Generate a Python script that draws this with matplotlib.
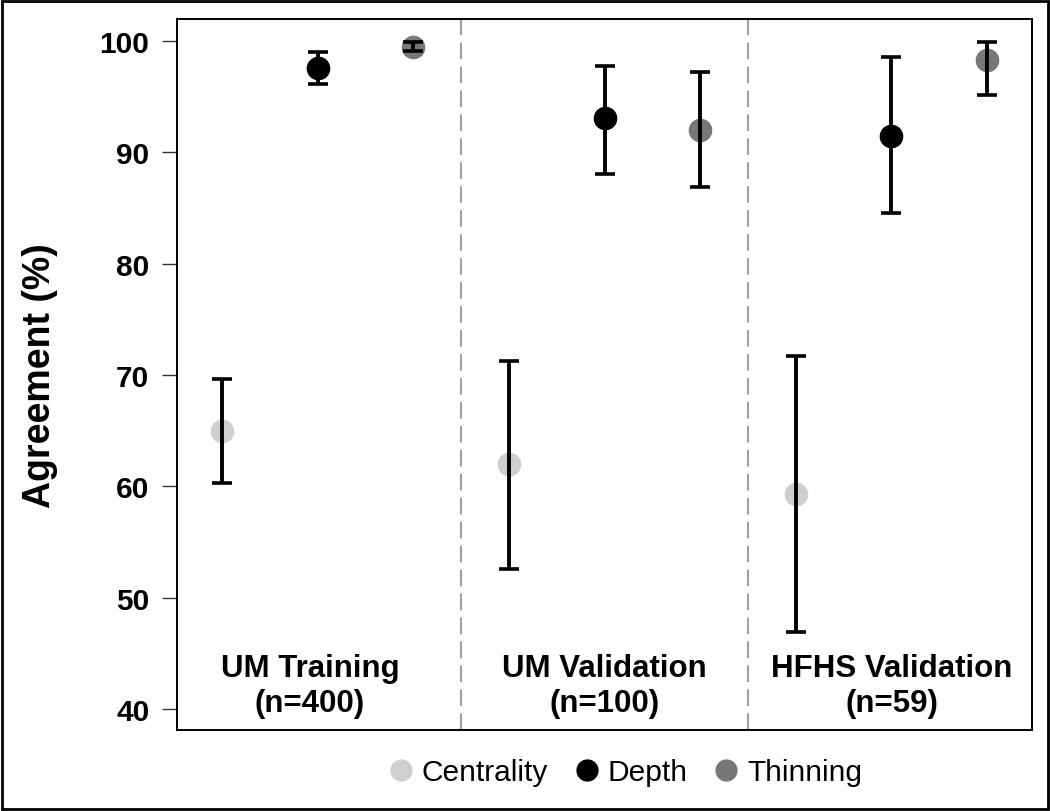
import matplotlib.pyplot as plt
from matplotlib.patches import Rectangle
from matplotlib.lines import Line2D
import numpy as np

# Dados
grupos = ['UM Training\n(n=400)', 'UM Validation\n(n=100)', 'HFHS Validation\n(n=59)']
medidas = ['Centrality', 'Depth', 'Thinning']
cores = ['#cfcfcf', '#000000', '#77777b']

estimativa = {
    'Centrality': [65.0, 62.0, 59.3],
    'Depth': [97.6, 93.1, 91.5],
    'Thinning': [99.5, 92.0, 98.3],
}
ic_inf = {
    'Centrality': [60.3, 52.6, 46.9],
    'Depth': [96.2, 88.1, 84.6],
    'Thinning': [99.1, 86.9, 95.2],
}
ic_sup = {
    'Centrality': [69.6, 71.3, 71.7],
    'Depth': [99.0, 97.8, 98.6],
    'Thinning': [99.9, 97.2, 99.9],
}

plt.rcParams['font.family'] = ['Liberation Sans', 'DejaVu Sans']

fig = plt.figure(figsize=(10.5, 8.12), dpi=100)
ax = fig.add_axes([0.1686, 0.0998, 0.8143, 0.8756])

for j, m in enumerate(medidas):
    x = np.arange(len(grupos)) * 3 + j
    y = np.array(estimativa[m])
    erro = [y - np.array(ic_inf[m]), np.array(ic_sup[m]) - y]
    ax.plot(x, y, 'o', color=cores[j], markersize=16, zorder=2)
    ax.errorbar(x, y, yerr=erro, fmt='none', ecolor='black', elinewidth=2.8,
                capsize=7, capthick=2.6, zorder=3)

# Linhas divisórias entre grupos
for d in [2.5, 5.5]:
    ax.axvline(d, color='#a0a0a0', linewidth=1.5, linestyle=(0, (8, 3.5)), zorder=1)

for i, g in enumerate(grupos):
    ax.text(i * 3 + 1 - (0.08 if i == 0 else 0), 42.1, g, ha='center', va='center',
            fontsize=22.5, fontweight='bold', linespacing=1.2, multialignment='center')

ax.set_xlim(-0.47, 8.47)
ax.set_ylim(38.1, 102.0)
ax.set_xticks([])
ax.set_yticks(np.arange(40, 101, 10))
ax.tick_params(axis='y', labelsize=21.5, length=11, width=1, pad=9, color='#333333')
for lab in ax.get_yticklabels():
    lab.set_fontweight('bold')
ax.set_ylabel('Agreement (%)', fontsize=27, fontweight='bold', labelpad=30)
for s in ax.spines.values():
    s.set_linewidth(1.4)

handles = [Line2D([], [], marker='o', linestyle='none', color=c, markersize=15) for c in cores]
fig.legend(handles, medidas, loc='center', bbox_to_anchor=(624 / 1050, 1 - 773 / 812),
           ncol=3, frameon=False, fontsize=21.5, handletextpad=0.2, columnspacing=0.8,
           handlelength=1.0)

fig.patches.append(Rectangle((0.002, 0.002), 0.996, 0.996, transform=fig.transFigure,
                             fill=False, edgecolor='black', linewidth=2))

fig.savefig('out.png', dpi=100)
